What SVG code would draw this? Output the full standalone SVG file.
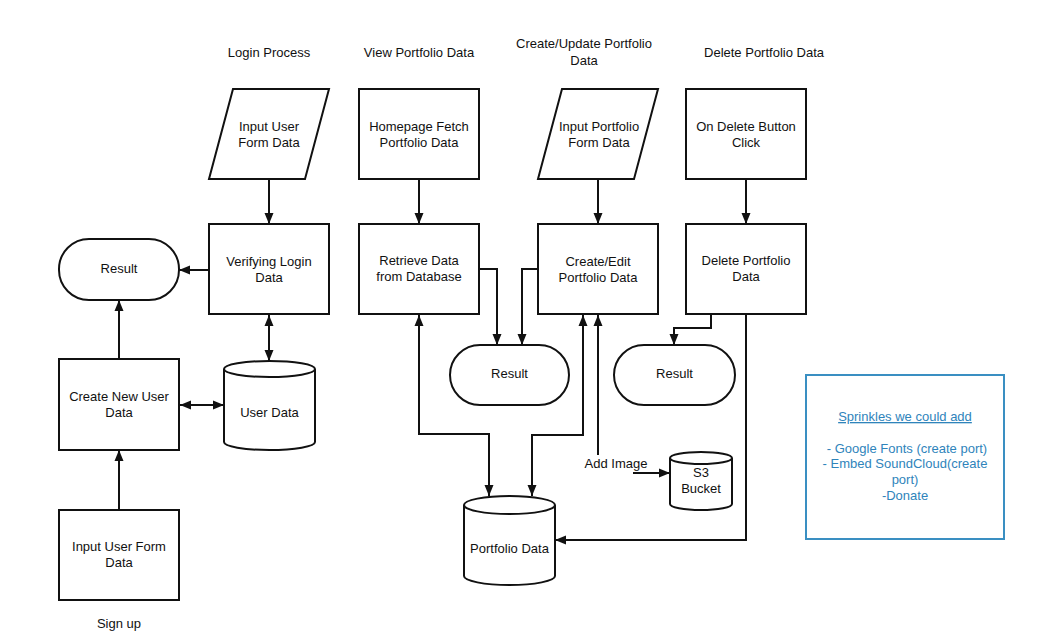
<svg xmlns="http://www.w3.org/2000/svg" width="1039" height="642" viewBox="0 0 1039 642">
<style>
  text { font-family: "Liberation Sans", Arial, sans-serif; font-size: 13px; fill: #111; text-anchor: middle; }
  .shape { fill: #fff; stroke: #111; stroke-width: 2; }
  .conn { fill: none; stroke: #111; stroke-width: 2; }
  .note { fill: #2f84bb; }
  .notebox { fill: #fff; stroke: #3a8fc2; stroke-width: 2; }
</style>
<defs>
  <marker id="arr" markerWidth="12" markerHeight="10" refX="11" refY="5" orient="auto-start-reverse" markerUnits="userSpaceOnUse">
    <path d="M0,0.5 L11,5 L0,9.5 z" fill="#111"/>
  </marker>
</defs>
<rect width="1039" height="642" fill="#fff"/>

<g id="titles">
  <text x="269" y="57">Login Process</text>
  <text x="419" y="57">View Portfolio Data</text>
  <text x="584" y="48">Create/Update Portfolio</text>
  <text x="584" y="65">Data</text>
  <text x="764" y="57">Delete Portfolio Data</text>
  <text x="119" y="628">Sign up</text>
</g>

<g id="connectors">
  <path class="conn" d="M269,179 L269,224" marker-end="url(#arr)"/>
  <path class="conn" d="M209,270 L179,270" marker-end="url(#arr)"/>
  <path class="conn" d="M119,359 L119,300" marker-end="url(#arr)"/>
  <path class="conn" d="M269,315 L269,361" marker-start="url(#arr)" marker-end="url(#arr)"/>
  <path class="conn" d="M180,405 L224,405" marker-start="url(#arr)" marker-end="url(#arr)"/>
  <path class="conn" d="M119,510 L119,450" marker-end="url(#arr)"/>
  <path class="conn" d="M419,179 L419,224" marker-end="url(#arr)"/>
  <path class="conn" d="M598,179 L598,224" marker-end="url(#arr)"/>
  <path class="conn" d="M746,179 L746,224" marker-end="url(#arr)"/>
  <path class="conn" d="M479,269 L497,269 L497,345" marker-end="url(#arr)"/>
  <path class="conn" d="M538,269 L522,269 L522,345" marker-end="url(#arr)"/>
  <path class="conn" d="M711,314 L711,328 L674,328 L674,345" marker-end="url(#arr)"/>
  <path class="conn" d="M419,315 L419,434 L489,434 L489,496" marker-start="url(#arr)" marker-end="url(#arr)"/>
  <path class="conn" d="M583,315 L583,435 L532,435 L532,496" marker-start="url(#arr)" marker-end="url(#arr)"/>
  <path class="conn" d="M598,315 L598,455" marker-start="url(#arr)"/>
  <path class="conn" d="M633,473 L670,473" marker-end="url(#arr)"/>
  <path class="conn" d="M746,314 L746,540 L555,540" marker-end="url(#arr)"/>
  <text x="616" y="468">Add Image</text>
</g>

<g id="input-user-form-login">
  <path class="shape" d="M233,89 L329,89 L305,179 L209,179 Z"/>
  <text x="269" y="131">Input User</text>
  <text x="269" y="147">Form Data</text>
</g>
<g id="verifying-login">
  <rect class="shape" x="209" y="224" width="120" height="90"/>
  <text x="269" y="266">Verifying Login</text>
  <text x="269" y="282">Data</text>
</g>
<g id="result-login">
  <rect class="shape" x="59" y="239" width="120" height="61" rx="30" ry="30"/>
  <text x="119" y="273">Result</text>
</g>
<g id="create-new-user">
  <rect class="shape" x="59" y="359" width="120" height="91"/>
  <text x="119" y="401">Create New User</text>
  <text x="119" y="417">Data</text>
</g>
<g id="user-data">
  <path class="shape" d="M224,369 A45.5,8 0 0 1 315,369 L315,442 A45.5,8 0 0 1 224,442 Z"/>
  <path class="conn" d="M224,369 A45.5,8 0 0 0 315,369"/>
  <text x="269.5" y="417">User Data</text>
</g>
<g id="input-user-form-signup">
  <rect class="shape" x="59" y="510" width="120" height="90"/>
  <text x="119" y="551">Input User Form</text>
  <text x="119" y="567">Data</text>
</g>

<g id="homepage-fetch">
  <rect class="shape" x="359" y="89" width="120" height="90"/>
  <text x="419" y="131">Homepage Fetch</text>
  <text x="419" y="147">Portfolio Data</text>
</g>
<g id="retrieve-data">
  <rect class="shape" x="359" y="224" width="120" height="90"/>
  <text x="419" y="265">Retrieve Data</text>
  <text x="419" y="281">from Database</text>
</g>
<g id="input-portfolio-form">
  <path class="shape" d="M562,89 L658,89 L634,179 L538,179 Z"/>
  <text x="599" y="131">Input Portfolio</text>
  <text x="599" y="147">Form Data</text>
</g>
<g id="create-edit-portfolio">
  <rect class="shape" x="538" y="224" width="120" height="90"/>
  <text x="598" y="266">Create/Edit</text>
  <text x="598" y="282">Portfolio Data</text>
</g>
<g id="result-portfolio">
  <rect class="shape" x="450" y="345" width="119" height="60" rx="30" ry="30"/>
  <text x="509.5" y="378">Result</text>
</g>
<g id="on-delete-click">
  <rect class="shape" x="686" y="89" width="120" height="90"/>
  <text x="746" y="131">On Delete Button</text>
  <text x="746" y="147">Click</text>
</g>
<g id="delete-portfolio">
  <rect class="shape" x="686" y="224" width="120" height="90"/>
  <text x="746" y="265">Delete Portfolio</text>
  <text x="746" y="281">Data</text>
</g>
<g id="result-delete">
  <rect class="shape" x="614" y="345" width="121" height="60" rx="30" ry="30"/>
  <text x="674.5" y="378">Result</text>
</g>
<g id="s3-bucket">
  <path class="shape" d="M670,458 A31,6 0 0 1 732,458 L732,504 A31,6 0 0 1 670,504 Z"/>
  <path class="conn" d="M670,458 A31,6 0 0 0 732,458"/>
  <text x="701" y="477">S3</text>
  <text x="701" y="493">Bucket</text>
</g>
<g id="portfolio-data">
  <path class="shape" d="M464,505 A45.5,9 0 0 1 555,505 L555,576 A45.5,9 0 0 1 464,576 Z"/>
  <path class="conn" d="M464,505 A45.5,9 0 0 0 555,505"/>
  <text x="509.5" y="553">Portfolio Data</text>
</g>

<g id="sprinkles-note">
  <rect class="notebox" x="806" y="375" width="198" height="164"/>
  <text class="note" x="905" y="421" text-decoration="underline">Sprinkles we could add</text>
  <text class="note" x="907" y="453">- Google Fonts (create port)</text>
  <text class="note" x="905" y="468">- Embed SoundCloud(create</text>
  <text class="note" x="905" y="484">port)</text>
  <text class="note" x="905" y="500">-Donate</text>
</g>
</svg>
